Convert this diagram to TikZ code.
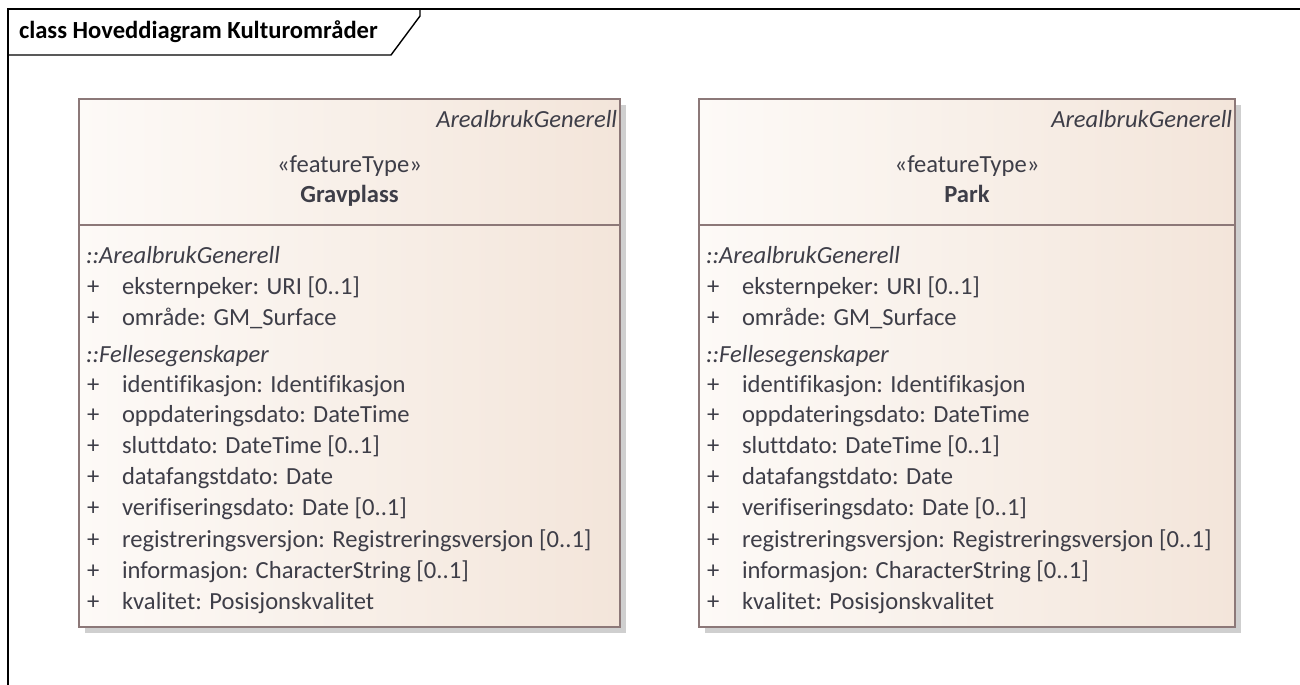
\documentclass[tikz,border=0pt]{standalone}
\usepackage{fontspec}
\setmainfont{Carlito}[Ligatures=NoCommon]
\definecolor{edge}{HTML}{8C7878}
\definecolor{fillL}{HTML}{FDFAF7}
\definecolor{fillR}{HTML}{F3E5DA}
\definecolor{ink}{HTML}{3E3E48}
\definecolor{shadow}{HTML}{CFCFCF}
\usepackage{tikz}
\usetikzlibrary{positioning}
\tikzstyle{base}=[inner sep=0pt, outer sep=0pt]
\tikzstyle{classbox}=[draw=edge, line width=0.9pt, left color=fillL, right color=fillR]
\tikzstyle{txt}=[ink, anchor=base, font=\fontsize{14}{16}\selectfont]
\tikzstyle{attr}=[txt, anchor=base west]

\begin{document}
\begin{tikzpicture}[base, x=0.02cm, y=-0.02cm]
    \path [use as bounding box] (0,0) rectangle (1300,684);
    % frame
    \draw [black, line width=0.8pt] (8,690) -- (8,9) -- (1305,9);
    \draw [black, line width=0.8pt] (8,55) -- (391,55) -- (420,16) -- (420,9);
    \node [anchor=base west, font=\fontsize{14}{16}\selectfont\bfseries] (frametitle) at (19,38) {class Hoveddiagram Kulturområder};
    % classes
    \foreach \n/\l/\r/\c in {grav/79/620/Gravplass, park/699/1235/Park} {
        \fill [shadow] (\l + 6,105) rectangle (\r + 6,633);
        \draw [classbox] (\l,99) rectangle (\r,627);
        \draw [edge, line width=0.9pt] (\l,225) -- (\r,225);
        \node [txt, anchor=base east, font=\fontsize{14}{16}\selectfont\itshape] (\n-parent) at (\r - 3,127) {ArealbrukGenerell};
        \node [txt] (\n-stereo) at (\l/2 + \r/2,172) {«featureType»};
        \node [txt, font=\fontsize{14}{16}\selectfont\bfseries] (\n-name) at (\l/2 + \r/2,202) {\c};
        \node [attr, font=\fontsize{14}{16}\selectfont\itshape] (\n-g1) at (\l + 7,263) {::ArealbrukGenerell};
        \node [attr, font=\fontsize{14}{16}\selectfont\itshape] (\n-g2) at (\l + 7,362) {::Fellesegenskaper};
        \foreach \y/\t [count=\i] in {294/eksternpeker: URI [0..1], 325/område: GM\_Surface,
                392/identifikasjon: Identifikasjon, 422/oppdateringsdato: DateTime,
                453/sluttdato: DateTime [0..1], 484/datafangstdato: Date,
                515/verifiseringsdato: Date [0..1], 547/registreringsversjon: Registreringsversjon [0..1],
                578/informasjon: CharacterString [0..1], 609/kvalitet: Posisjonskvalitet} {
            \node [attr] (\n-plus\i) at (\l + 8,\y) {+};
            \node [attr] (\n-a\i) at (\l + 43,\y) {\t};
        }
    }
\end{tikzpicture}
\end{document}
